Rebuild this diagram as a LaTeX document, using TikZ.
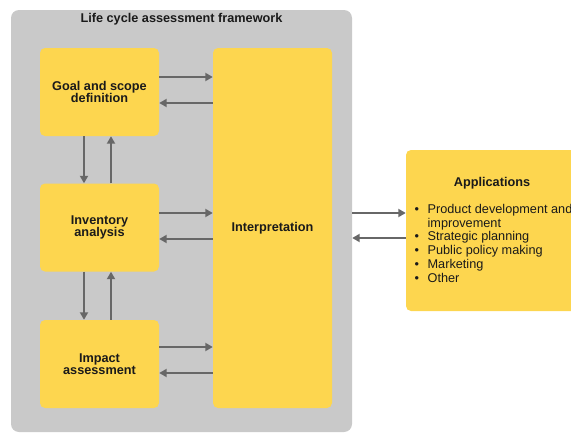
\documentclass[tikz,border=0pt]{standalone}
\usepackage{fontspec}
\setmainfont{Liberation Sans}
\usetikzlibrary{arrows.meta,positioning}
\definecolor{lcagray}{HTML}{C9C9C9}
\definecolor{lcayellow}{HTML}{FDD64F}
\definecolor{arrowgray}{HTML}{676767}
\definecolor{textblack}{HTML}{1A1A1A}
\tikzset{frame/.style={
            fill=lcagray,
            rounded corners=8pt,
            inner sep=0pt,
            minimum width=341pt,
            minimum height=422pt
        },
        stagebox/.style={
            fill=lcayellow,
            rounded corners=5pt,
            inner sep=0pt,
            minimum width=119pt,
            minimum height=88pt,
            align=center,
            text=textblack,
            font=\fontsize{12.7}{12}\selectfont\bfseries
        },
        heading/.style={
            text=textblack,
            font=\fontsize{12.7}{14}\selectfont\bfseries
        },
        flow/.style={
            draw=arrowgray,
            line width=2.5pt,
            -{Triangle[length=7.5pt,width=8pt]}
        }
    }

\begin{document}
\begin{tikzpicture}[x=1pt,y=-1pt]
        \useasboundingbox (0,0) rectangle (571,434);
        \clip (0,0) rectangle (571,434);
        \node[frame] (lca) at (181.5,221) {};
        \node[heading] (title) at (181.5,19) {Life cycle assessment framework};
        \node[stagebox] (goal) at (99.5,92) {Goal and scope\\definition};
        \node[stagebox] (inv) at (99.5,227.5) {Inventory\\analysis};
        \node[stagebox] (impact) at (99.5,364) {Impact\\assessment};
        \node[stagebox,minimum height=360pt] (interp) at (272.5,228) {Interpretation};
        \node[stagebox,minimum width=190pt,minimum height=161pt] (apps) at (501,230.5) {};
        \node[heading] (appstitle) at (492,183) {Applications};
        \node[anchor=north west,inner sep=0pt,text=textblack,font=\fontsize{12.7}{13.8}\selectfont] (applist) at (414.5,203.5)
            {\begin{tabular}{@{}l@{\hspace{8.5pt}}l@{}}
             \textbullet & Product development and\\
                         & improvement\\
             \textbullet & Strategic planning\\
             \textbullet & Public policy making\\
             \textbullet & Marketing\\
             \textbullet & Other
             \end{tabular}};
        \draw[flow] ([yshift=15pt]goal.east) -- ([yshift=15pt]goal.east -| interp.west);
        \draw[flow] ([yshift=-11pt]goal.east -| interp.west) -- ([yshift=-11pt]goal.east);
        \draw[flow] ([yshift=14.5pt]inv.east) -- ([yshift=14.5pt]inv.east -| interp.west);
        \draw[flow] ([yshift=-11.5pt]inv.east -| interp.west) -- ([yshift=-11.5pt]inv.east);
        \draw[flow] ([yshift=17pt]impact.east) -- ([yshift=17pt]impact.east -| interp.west);
        \draw[flow] ([yshift=-9pt]impact.east -| interp.west) -- ([yshift=-9pt]impact.east);
        \draw[flow] ([xshift=-15.5pt]goal.south) -- ([xshift=-15.5pt]inv.north);
        \draw[flow] ([xshift=11.5pt]inv.north) -- ([xshift=11.5pt]goal.south);
        \draw[flow] ([xshift=-15.5pt]inv.south) -- ([xshift=-15.5pt]impact.north);
        \draw[flow] ([xshift=11.5pt]impact.north) -- ([xshift=11.5pt]inv.south);
        \draw[flow] ([yshift=15pt]interp.east -| lca.east) -- ([yshift=15pt]interp.east -| apps.west);
        \draw[flow] ([yshift=-10pt]interp.east -| apps.west) -- ([yshift=-10pt]interp.east -| lca.east);
    \end{tikzpicture}
\end{document}
